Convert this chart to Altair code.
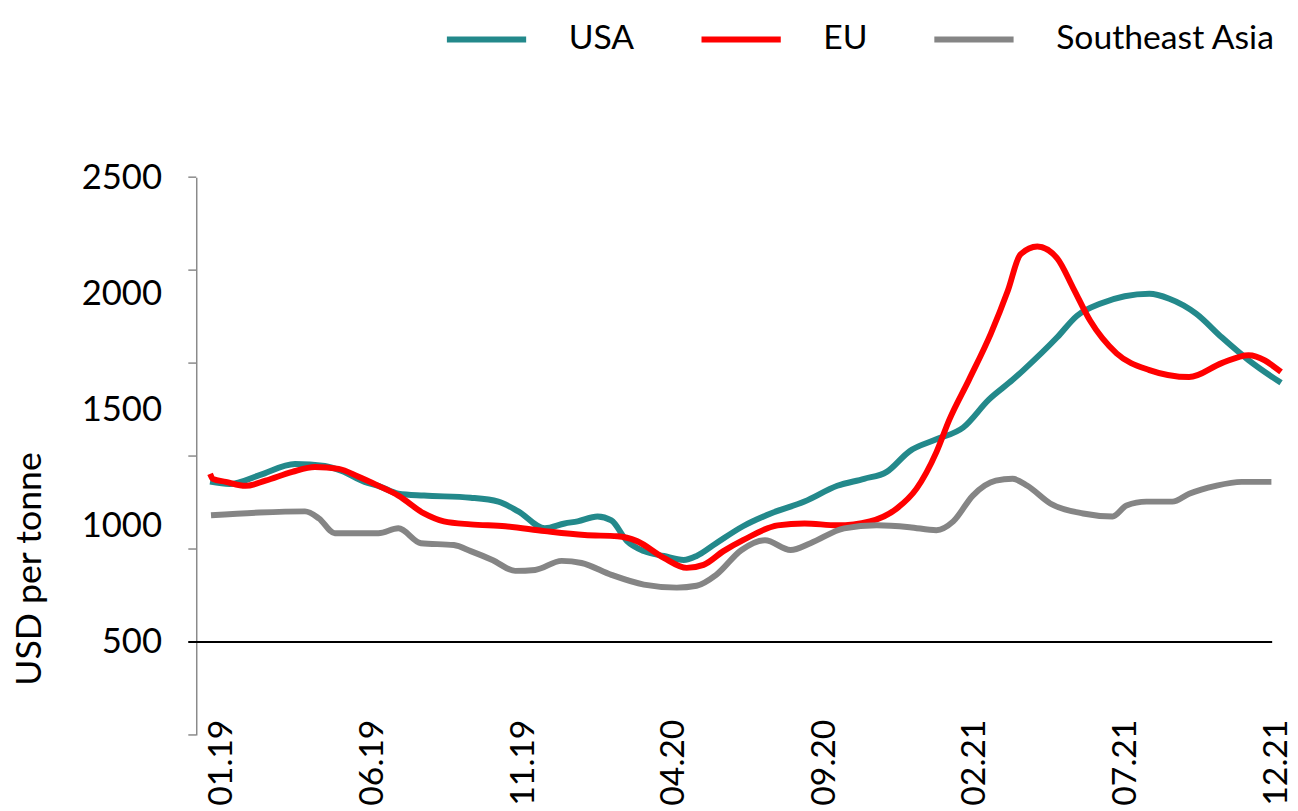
import altair as alt
import pandas as pd

# ---- data ----
series_names = ["USA", "EU", "Southeast Asia"]
series_colors = ["#23898B", "#FF0000", "#858585"]

usa_month = [-0.16, 0.49, 1.48, 2.66, 3.65, 4.21, 4.97, 5.43, 6.09, 6.94, 8.49, 9.41,
             10.07, 10.95, 11.61, 12.04, 12.70, 13.16, 13.68, 14.24, 14.90, 15.56, 15.99,
             16.64, 17.53, 18.45, 19.57, 20.66, 21.55, 22.30, 23.06, 23.95, 24.84, 25.69,
             26.48, 26.84, 27.96, 28.62, 29.38, 31.02, 31.68, 32.57, 33.42, 34.31, 35.39]
usa_value = [1190, 1180, 1218, 1266, 1257, 1236, 1189, 1172, 1138, 1130, 1121, 1104,
             1062, 989, 1010, 1019, 1040, 1023, 934, 891, 870, 853, 870,
             925, 998, 1053, 1104, 1172, 1202, 1232, 1321, 1372, 1423, 1543,
             1628, 1670, 1811, 1904, 1955, 1998, 1977, 1913, 1811, 1713, 1615]

eu_month = [-0.16, -0.07, 0.36, 1.02, 1.68, 2.57, 3.32, 4.11, 4.77, 5.43, 6.09, 6.94,
            7.60, 8.49, 9.64, 10.95, 12.27, 13.36, 14.01, 14.90, 15.66, 16.22, 16.88,
            17.53, 18.68, 19.57, 20.66, 21.74, 22.63, 23.29, 23.95, 24.38, 25.03, 25.76,
            26.32, 26.74, 27.30, 27.96, 28.49, 29.05, 29.93, 31.02, 32.34, 33.42, 34.31, 35.39]
eu_value = [1223, 1202, 1189, 1172, 1194, 1232, 1253, 1245, 1211, 1172, 1130, 1053,
            1019, 1006, 998, 977, 960, 955, 934, 862, 819, 832, 891,
            938, 1002, 1010, 1002, 1019, 1074, 1160, 1317, 1457, 1628, 1828,
            2011, 2168, 2202, 2151, 2023, 1883, 1742, 1670, 1640, 1700, 1734, 1662]

sea_month = [-0.13, 1.48, 2.99, 3.45, 3.98, 5.43, 6.09, 6.84, 7.93, 8.49, 9.21, 9.97,
             10.63, 11.51, 12.17, 13.16, 14.24, 15.33, 15.99, 16.64, 17.47, 18.26, 19.11,
             19.77, 20.89, 21.97, 23.06, 23.95, 24.51, 25.16, 25.92, 26.48, 26.97, 27.73,
             28.82, 29.80, 30.26, 30.92, 31.78, 32.34, 33.22, 34.08, 35.07]
sea_value = [1045, 1057, 1062, 1032, 968, 968, 989, 925, 917, 891, 853, 806,
             810, 849, 840, 789, 747, 734, 742, 789, 895, 938, 896,
             925, 989, 1002, 994, 981, 1019, 1130, 1194, 1202, 1172, 1096,
             1053, 1040, 1087, 1104, 1104, 1138, 1172, 1189, 1189]

x_label_months = [0, 5, 10, 15, 20, 25, 30, 35]
x_labels = ["01.19", "06.19", "11.19", "04.20", "09.20", "02.21", "07.21", "12.21"]
y_label_values = [500, 1000, 1500, 2000, 2500]
y_tick_values = [100, 500, 900, 1300, 1700, 2100, 2500]
y_title = "USD per tonne"

# ---- tables ----
rows = []
for name, ms, vs in [("USA", usa_month, usa_value),
                     ("EU", eu_month, eu_value),
                     ("Southeast Asia", sea_month, sea_value)]:
    for i, (m, v) in enumerate(zip(ms, vs)):
        rows.append({"series": name, "month": m, "value": v, "order": i})
df = pd.DataFrame(rows)
ticks_df = pd.DataFrame({"value": y_tick_values})

FONT = "Lato"
label_expr = "[" + ",".join("'" + s + "'" for s in x_labels) + "][round(datum.value/5)]"

x_scale = alt.Scale(domain=[-0.62, 35.49], nice=False, zero=False)
y_scale = alt.Scale(domain=[100, 2500], nice=False, zero=False)

lines = alt.Chart(df).mark_line(strokeWidth=6, interpolate="monotone").encode(
    x=alt.X("month:Q", scale=x_scale,
            axis=alt.Axis(values=x_label_months, labelExpr=label_expr, title=None,
                          labelAngle=270, labelAlign="right", labelBaseline="middle",
                          labelFont=FONT, labelFontSize=34, labelColor="#000000",
                          labelPadding=0, offset=-16, labelOffset=7, domain=False,
                          ticks=False, grid=False, labelOverlap=False,
                          labelFlush=False)),
    y=alt.Y("value:Q", scale=y_scale,
            axis=alt.Axis(values=y_label_values, format="d", title=y_title,
                          grid=False, ticks=False, domain=True, domainColor="#8a8a8a",
                          domainWidth=1.5, labelFont=FONT, labelFontSize=35,
                          labelColor="#000000", labelPadding=35,
                          titleFont=FONT, titleFontSize=36, titleFontWeight="normal",
                          titleColor="#000000", titleAngle=270, titleX=-168,
                          titleY=395, titleBaseline="middle", titleAlign="center")),
    color=alt.Color("series:N",
                    scale=alt.Scale(domain=series_names, range=series_colors),
                    sort=series_names,
                    legend=alt.Legend(title=None, orient="none", legendX=250,
                                      legendY=-182, direction="horizontal",
                                      symbolType="stroke", symbolSize=6400,
                                      symbolStrokeWidth=6, labelFont=FONT,
                                      labelFontSize=34, labelColor="#000000",
                                      labelOffset=40, columnPadding=55,
                                      labelLimit=0)),
    order="order:Q",
)

tick_marks = alt.Chart(ticks_df).mark_rule(color="#8a8a8a", strokeWidth=1.5).encode(
    y=alt.Y("value:Q", scale=y_scale),
    x=alt.value(-8),
    x2=alt.value(0),
)

base_line = alt.Chart(pd.DataFrame({"value": [500]})).mark_rule(
    color="#000000", strokeWidth=2).encode(
    y=alt.Y("value:Q", scale=y_scale),
    x=alt.value(-8),
    x2=alt.value(1086),
)

chart = alt.layer(tick_marks, base_line, lines).properties(
    width=1098, height=563,
    autosize=alt.AutoSizeParams(type="none"),
    padding={"left": 190, "top": 167, "right": 6, "bottom": 73},
).configure(font=FONT, background="#ffffff", view=alt.ViewConfig(stroke=None))

chart.save("out.html", embed_options={"renderer": "svg", "actions": False})
